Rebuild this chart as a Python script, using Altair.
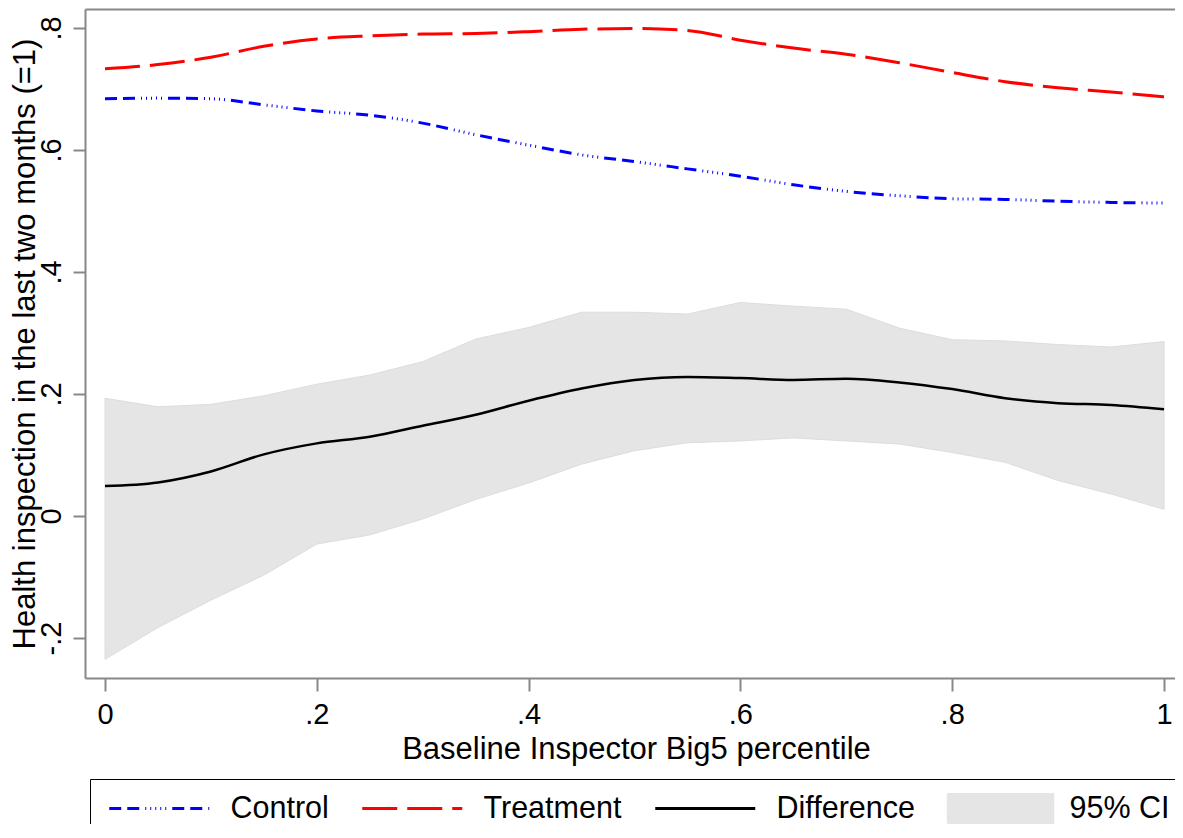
import altair as alt
import pandas as pd

FONT = "Liberation Sans"

# ---- data ----
x_vals = [0.00, 0.05, 0.10, 0.15, 0.20, 0.25, 0.30, 0.35, 0.40, 0.45, 0.50,
          0.55, 0.60, 0.65, 0.70, 0.75, 0.80, 0.85, 0.90, 0.95, 1.00]
treatment = [0.733, 0.740, 0.752, 0.770, 0.782, 0.787, 0.790, 0.791, 0.794, 0.798, 0.799,
             0.796, 0.780, 0.767, 0.757, 0.743, 0.727, 0.712, 0.702, 0.695, 0.687]
control = [0.684, 0.685, 0.684, 0.674, 0.664, 0.657, 0.644, 0.625, 0.608, 0.592, 0.581,
           0.569, 0.557, 0.543, 0.532, 0.525, 0.520, 0.519, 0.516, 0.514, 0.513]
difference = [0.049, 0.055, 0.073, 0.101, 0.119, 0.130, 0.148, 0.166, 0.189, 0.209, 0.223,
              0.228, 0.226, 0.223, 0.225, 0.219, 0.208, 0.193, 0.185, 0.182, 0.175]
ci_high = [0.193, 0.179, 0.183, 0.197, 0.216, 0.231, 0.253, 0.290, 0.309, 0.334, 0.334,
           0.331, 0.350, 0.344, 0.339, 0.308, 0.289, 0.287, 0.281, 0.277, 0.286]
ci_low = [-0.235, -0.183, -0.138, -0.097, -0.046, -0.031, -0.005, 0.027, 0.054, 0.085, 0.107,
          0.120, 0.123, 0.128, 0.123, 0.118, 0.104, 0.088, 0.058, 0.036, 0.011]

series_names = ["Control", "Treatment", "Difference", "95% CI"]
y_ticks = [-0.2, 0.0, 0.2, 0.4, 0.6, 0.8]
x_ticks = [0.0, 0.2, 0.4, 0.6, 0.8, 1.0]

# ---- styles ----
blue_dash = [12, 6, 12, 6, 1, 4, 1, 4, 1, 4, 1, 4, 1, 6]
red_dash = [35, 10]
stroke_colors = ["#0000ff", "#ff0000", "#000000", "#e5e5e5"]
fill_colors = ["transparent", "transparent", "transparent", "#e5e5e5"]
dash_range = [blue_dash, red_dash, [1, 0], [1, 0]]
shape_range = ["M-1,0H9", "M-1,0H9", "M-1,0H9", "M-1,-1.5H9.45V1.5H-1Z"]

band_df = pd.DataFrame({"x": x_vals, "lo": ci_low, "hi": ci_high})
control_df = pd.DataFrame({"x": x_vals, "value": control})
treatment_df = pd.DataFrame({"x": x_vals, "value": treatment})
difference_df = pd.DataFrame({"x": x_vals, "value": difference})
legend_df = pd.DataFrame({"series": series_names})

x_scale = alt.Scale(domain=[-0.01889, 1.01039], nice=False, zero=False)
y_scale = alt.Scale(domain=[-0.2656, 0.8311], nice=False, zero=False)

tick_label = ("datum.value == 0 ? '0' : datum.value == 1 ? '1' : "
              "(datum.value < 0 ? '-' : '') + "
              "replace(format(abs(datum.value), '.1f'), '0.', '.')")

y_axis = alt.Axis(
    values=y_ticks, labelExpr=tick_label, labelAngle=270, labelAlign="center",
    labelBaseline="alphabetic", labelPadding=13, labelFontSize=29, tickSize=12,
    tickWidth=2, domainWidth=2, grid=False, labelFlush=False, labelOverlap=False,
    title="Health inspection in the last two months (=1)", titleFontSize=31,
    titleFontWeight="normal", titleAngle=270, titleAlign="center",
    titleBaseline="alphabetic", titleX=-51, titleY=334.5,
)
x_axis = alt.Axis(
    values=x_ticks, labelExpr=tick_label, labelBaseline="alphabetic",
    labelPadding=32, labelFontSize=29, tickSize=13, tickWidth=2, domainWidth=2,
    grid=False, labelFlush=False, labelOverlap=False,
    title="Baseline Inspector Big5 percentile", titleFontSize=31,
    titleFontWeight="normal", titleAlign="center", titleBaseline="alphabetic",
    titleX=551, titleY=80,
)
x_top = alt.Axis(orient="top", labels=False, ticks=False, domain=True,
                 domainWidth=2, grid=False, title=None)

legend = alt.Legend(
    title=None, orient="none", legendX=5, legendY=770, direction="horizontal",
    columns=4, padding=14, strokeColor="black", labelFont=FONT,
    labelFontSize=30.5, labelColor="black", labelLimit=400, labelOffset=96,
    symbolSize=400, symbolStrokeWidth=3, columnPadding=28, clipHeight=31,
    symbolOpacity=1, symbolFillColor="transparent", symbolStrokeColor="black",
)

area = alt.Chart(band_df).mark_area(
    fill="#e5e5e5", stroke="#dddddd", strokeWidth=1
).encode(
    x=alt.X("x:Q", scale=x_scale, axis=x_axis),
    y=alt.Y("lo:Q", scale=y_scale, axis=y_axis),
    y2="hi:Q",
)

line_c = alt.Chart(control_df).mark_line(
    stroke="#0000ff", strokeWidth=3, strokeDash=blue_dash, interpolate="monotone"
).encode(
    x=alt.X("x:Q", scale=x_scale, axis=x_top),
    y=alt.Y("value:Q", scale=y_scale, axis=y_axis),
)
line_t = alt.Chart(treatment_df).mark_line(
    stroke="#ff0000", strokeWidth=3, strokeDash=red_dash, interpolate="monotone"
).encode(
    x=alt.X("x:Q", scale=x_scale, axis=None),
    y=alt.Y("value:Q", scale=y_scale, axis=y_axis),
)
line_d = alt.Chart(difference_df).mark_line(
    stroke="#000000", strokeWidth=2.5, interpolate="monotone"
).encode(
    x=alt.X("x:Q", scale=x_scale, axis=None),
    y=alt.Y("value:Q", scale=y_scale, axis=y_axis),
)

legend_layer = alt.Chart(legend_df).transform_filter("false").mark_point(
    opacity=1, filled=False
).encode(
    stroke=alt.Stroke("series:N", scale=alt.Scale(domain=series_names, range=stroke_colors), legend=legend),
    fill=alt.Fill("series:N", scale=alt.Scale(domain=series_names, range=fill_colors), legend=legend),
    shape=alt.Shape("series:N", scale=alt.Scale(domain=series_names, range=shape_range), legend=legend),
    strokeDash=alt.StrokeDash("series:N", scale=alt.Scale(domain=series_names, range=dash_range), legend=legend),
)

chart = alt.layer(area, line_c, line_t, line_d, legend_layer).resolve_axis(
    x="independent"
).properties(
    width=1090, height=669,
    padding={"left": 77, "top": 1, "right": 0, "bottom": 146},
    autosize=alt.AutoSizeParams(type="none"),
).configure_view(
    stroke="transparent"
).configure_axis(
    labelFont=FONT, titleFont=FONT, labelColor="black", titleColor="black",
    domainColor="black", tickColor="black", titleFontWeight="normal",
).configure(font=FONT, background="white")

chart.save("out.html", embed_options={"renderer": "svg", "actions": False})
